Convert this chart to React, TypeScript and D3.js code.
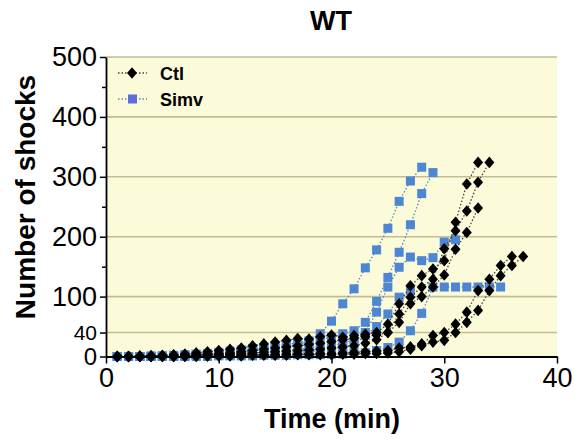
import React, { useRef, useEffect } from "react";
import * as d3 from "d3";

// minutes start at 1, one point per minute
const ctl1 = [0, 0, 1, 1, 2, 3, 4, 6, 8, 10, 12, 14, 18, 21, 24, 27, 30, 29, 33, 36, 32, 35, 37, 40, 54, 88, 118, 135, 146, 160, 224, 288, 324];
const ctl2 = [0, 0, 0, 1, 1, 2, 2, 3, 4, 5, 6, 8, 10, 12, 14, 16, 18, 20, 22, 25, 28, 30, 33, 36, 40, 71, 99, 116, 129, 180, 210, 243, 291, 324];
const ctl3 = [0, 0, 0, 0, 1, 1, 2, 2, 3, 3, 4, 5, 6, 7, 8, 9, 10, 11, 12, 14, 16, 18, 22, 28, 40, 57, 88, 100, 116, 136, 179, 207, 248];
const ctl4 = [0, 0, 0, 0, 0, 0, 1, 1, 1, 2, 2, 2, 3, 3, 3, 4, 4, 4, 5, 5, 6, 7, 8, 9, 10, 14, 16, 21, 35, 40, 54, 74, 110, 129, 152, 167];
const ctl5 = [0, 0, 0, 0, 0, 0, 0, 0, 1, 1, 1, 1, 2, 2, 2, 2, 3, 3, 3, 3, 4, 4, 5, 5, 6, 8, 12, 18, 24, 27, 40, 57, 77, 110, 135, 152, 167];

const simvA = [0, 0, 0, 1, 1, 2, 3, 4, 5, 7, 9, 11, 13, 15, 18, 20, 23, 26, 38, 59, 88, 113, 148, 178, 214, 259, 293, 316];
const simvB = [0, 0, 0, 0, 1, 1, 2, 3, 4, 5, 6, 8, 10, 12, 14, 17, 20, 24, 28, 32, 38, 43, 57, 92, 132, 174, 220, 272, 307];
const simvC = [0, 0, 0, 0, 0, 1, 1, 2, 2, 3, 4, 5, 6, 7, 8, 10, 12, 14, 16, 18, 22, 28, 40, 74, 116, 149, 166, 160, 165, 191, 195];
const simvD = [0, 0, 0, 0, 0, 0, 1, 1, 1, 2, 2, 3, 3, 4, 5, 6, 7, 8, 10, 12, 15, 20, 35, 50, 71, 99, 110];
const simvE = [0, 0, 0, 0, 0, 0, 0, 0, 0, 1, 1, 1, 1, 2, 2, 2, 3, 3, 3, 4, 4, 5, 6, 10, 15, 24, 43, 72, 116, 116, 116, 116, 116, 116, 116];

const ctlGroup = [ctl1, ctl2, ctl3, ctl4, ctl5];
const simvGroup = [simvA, simvB, simvC, simvD, simvE];

const xTicks = [0, 10, 20, 30, 40];
const yTicks = [0, 40, 100, 200, 300, 400, 500];
const yMinor = [150, 250, 350, 450];
const gridValues = [40, 100, 200, 300, 400, 500];

const BLUE = "#4d86d3";
const FONT = "Liberation Sans, Arial, sans-serif";

const App = () => {
  const ref = useRef<SVGSVGElement>(null);

  useEffect(() => {
    const svg = d3.select(ref.current);
    svg.selectAll("*").remove();

    const left = 106, right = 557, top = 57, bottom = 356.5;
    const x = d3.scaleLinear().domain([0, 40]).range([left, right]);
    const y = d3.scaleLinear().domain([0, 500]).range([bottom, top]);

    // plot background
    svg.append("rect")
      .attr("x", left).attr("y", top)
      .attr("width", right - left).attr("height", bottom - top)
      .attr("fill", "#fbfad9");

    // grid lines
    svg.append("g").selectAll("line")
      .data(gridValues)
      .enter().append("line")
      .attr("x1", left).attr("x2", right)
      .attr("y1", (d) => y(d)).attr("y2", (d) => y(d))
      .attr("stroke", "#c3bd93")
      .attr("stroke-width", 1.6);

    const line = d3.line<number>()
      .x((d, i) => x(i + 1))
      .y((d) => y(d));

    const diamond = "M0,-5.8L5,0L0,5.8L-5,0Z";

    const drawSeries = (series: number[][], color: string, lineColor: string, marker: "sq" | "dia") => {
      const g = svg.append("g");
      series.forEach((s) => {
        g.append("path")
          .attr("d", line(s))
          .attr("fill", "none")
          .attr("stroke", lineColor)
          .attr("stroke-width", 1.3)
          .attr("stroke-dasharray", "1.5,2");
      });
      series.forEach((s) => {
        if (marker === "sq") {
          g.selectAll(null)
            .data(s)
            .enter().append("rect")
            .attr("x", (d, i) => x(i + 1) - 4.5)
            .attr("y", (d) => y(d) - 4.5)
            .attr("width", 9).attr("height", 9)
            .attr("fill", color);
        } else {
          g.selectAll(null)
            .data(s)
            .enter().append("path")
            .attr("d", diamond)
            .attr("transform", (d, i) => `translate(${x(i + 1)},${y(d)})`)
            .attr("fill", color);
        }
      });
    };

    drawSeries(simvGroup, BLUE, "#5b87c6", "sq");
    drawSeries(ctlGroup, "#000", "#444", "dia");

    // axes
    const yAxis = svg.append("g")
      .attr("transform", `translate(${left},0)`)
      .call(d3.axisLeft(y).tickValues(yTicks).tickSize(6).tickSizeOuter(0).tickPadding(3));
    yAxis.selectAll("text")
      .attr("font-size", (d: any) => (d === 40 ? 21 : d === 0 ? 24 : 27))
      .attr("font-family", FONT)
      .attr("fill", "#000");
    svg.append("g")
      .attr("transform", `translate(${left},0)`)
      .call(d3.axisLeft(y).tickValues(yMinor).tickSize(4).tickSizeOuter(0).tickFormat(() => ""))
      .select(".domain").remove();

    const xAxis = svg.append("g")
      .attr("transform", `translate(0,${bottom})`)
      .call(d3.axisBottom(x).tickValues(xTicks).tickSize(7).tickSizeOuter(0).tickPadding(4));
    xAxis.selectAll("text")
      .attr("font-size", 27)
      .attr("font-family", FONT)
      .attr("fill", "#000");

    svg.selectAll(".domain").attr("stroke-width", 1.8).attr("stroke", "#000");
    svg.selectAll(".tick line").attr("stroke-width", 1.5).attr("stroke", "#000");

    // titles
    svg.append("text")
      .attr("x", 331).attr("y", 30)
      .attr("text-anchor", "middle")
      .attr("font-family", FONT).attr("font-weight", "bold").attr("font-size", 27)
      .text("WT");
    svg.append("text")
      .attr("x", 332).attr("y", 428)
      .attr("text-anchor", "middle")
      .attr("font-family", FONT).attr("font-weight", "bold").attr("font-size", 27)
      .text("Time (min)");
    svg.append("text")
      .attr("transform", "translate(35,197) rotate(-90)")
      .attr("text-anchor", "middle")
      .attr("font-family", FONT).attr("font-weight", "bold").attr("font-size", 28)
      .text("Number of shocks");

    // legend
    const legend = [
      { label: "Ctl", color: "#000", lineColor: "#444", marker: "dia", yPos: 73 },
      { label: "Simv", color: "#5b6fd6", lineColor: "#5b87c6", marker: "sq", yPos: 99 },
    ];
    legend.forEach((l) => {
      const g = svg.append("g");
      g.append("line")
        .attr("x1", 118).attr("x2", 147)
        .attr("y1", l.yPos).attr("y2", l.yPos)
        .attr("stroke", l.lineColor)
        .attr("stroke-width", 1.3)
        .attr("stroke-dasharray", "1.5,2");
      if (l.marker === "dia") {
        g.append("path").attr("d", diamond)
          .attr("transform", `translate(132,${l.yPos})`)
          .attr("fill", l.color);
      } else {
        g.append("rect")
          .attr("x", 128).attr("y", l.yPos - 4.5)
          .attr("width", 9).attr("height", 9)
          .attr("fill", l.color);
      }
      g.append("text")
        .attr("x", 160).attr("y", l.yPos + 6.5)
        .attr("font-family", FONT).attr("font-weight", "bold").attr("font-size", 18)
        .text(l.label);
    });
  }, []);

  return (
    <svg
      ref={ref}
      width={575}
      height={443}
      style={{ position: "absolute", left: 0, top: 0, background: "#fff" }}
    />
  );
};

export default App;
